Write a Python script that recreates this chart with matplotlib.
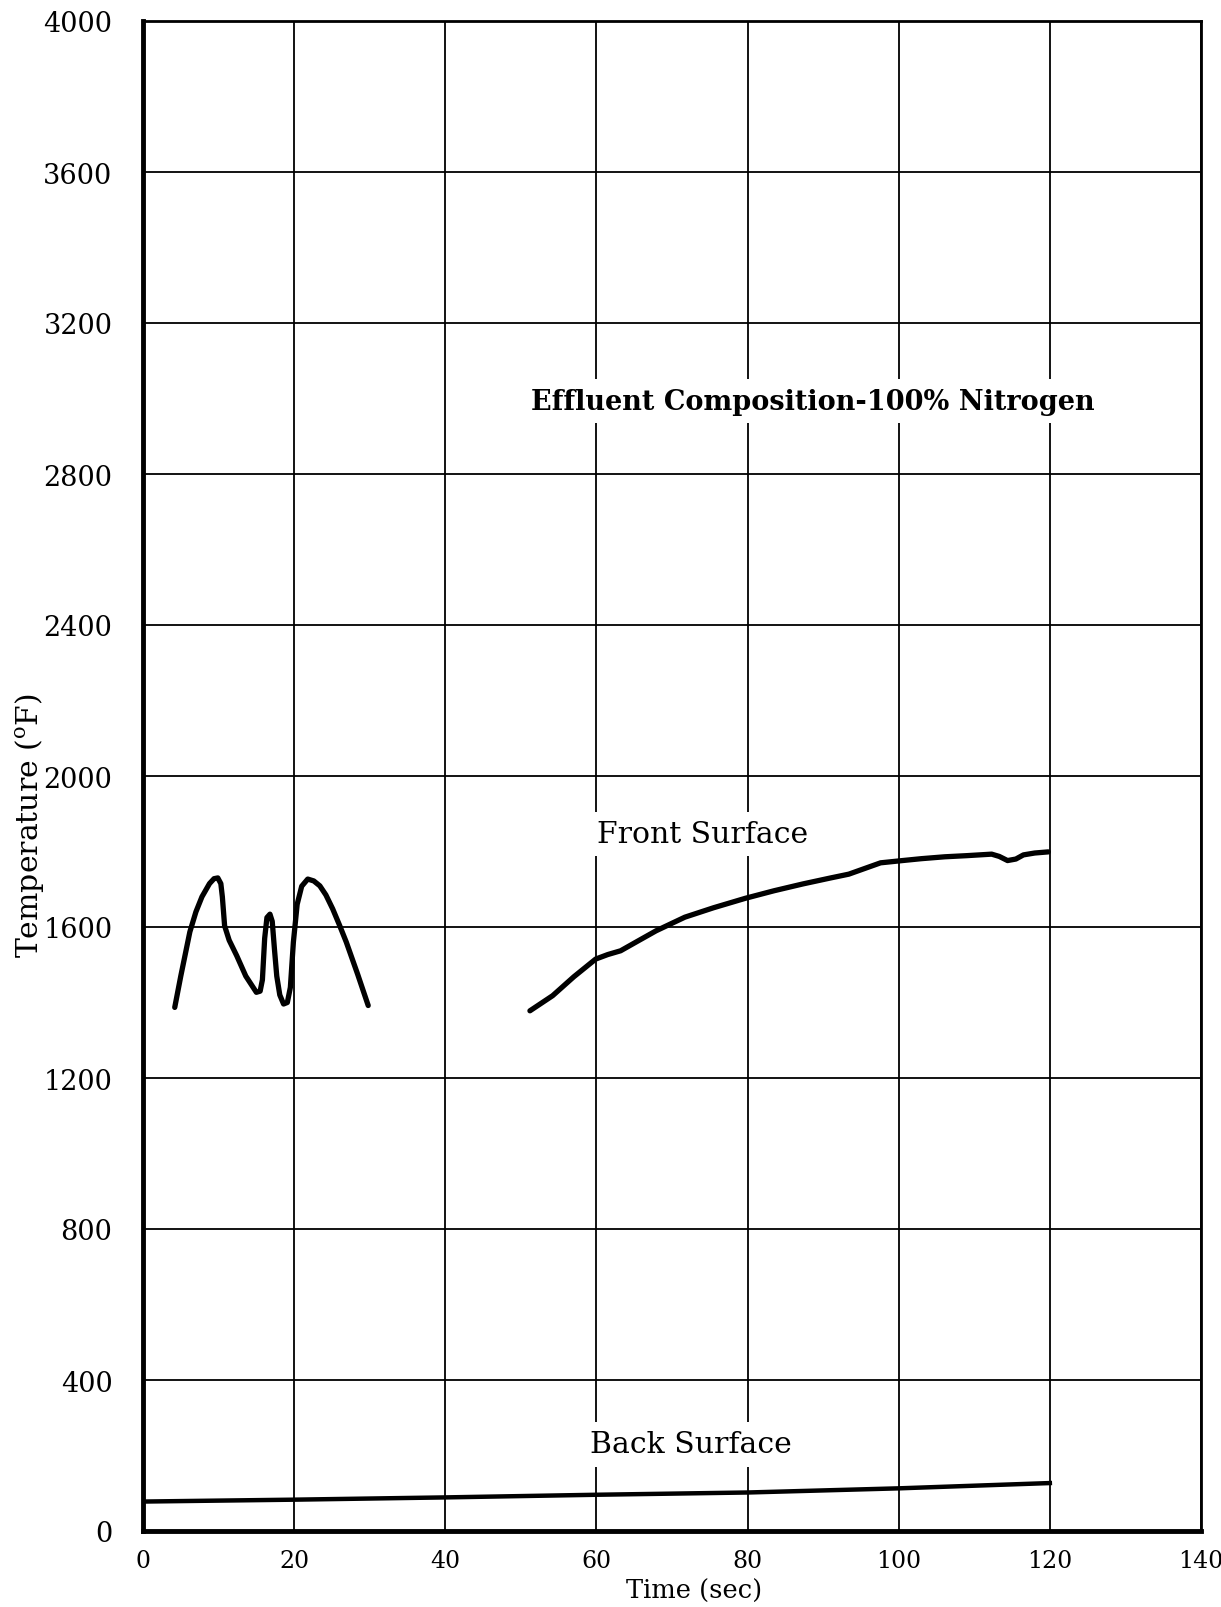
import matplotlib
matplotlib.use("Agg")
import matplotlib.pyplot as plt

# front surface, first burst (sec, deg F)
front1_t = [4.2, 5.0, 6.2, 7.0, 7.8, 8.8, 9.4, 9.9, 10.3, 10.5, 10.8, 11.4, 12.4, 13.6, 15.0, 15.5, 15.8,
            16.1, 16.4, 16.8, 17.1, 17.4, 17.7, 18.1, 18.6, 19.1, 19.5, 19.9, 20.4, 21.0, 21.8, 22.6, 23.4,
            24.2, 25.1, 26.0, 26.9, 28.4, 29.8]
front1_T = [1387, 1470, 1587, 1640, 1680, 1715, 1728, 1730, 1715, 1680, 1603, 1565, 1524, 1470, 1427, 1430,
            1460, 1570, 1625, 1634, 1615, 1540, 1470, 1420, 1396, 1400, 1440, 1560, 1660, 1708, 1727, 1722,
            1709, 1685, 1648, 1605, 1560, 1475, 1392]

# front surface, second part
front2_t = [51.2, 54.2, 57.0, 59.9, 61.5, 63.2, 65.5, 67.9, 71.7, 75.5, 79.7, 83.5, 87.3, 91.0, 93.4,
            95.5, 97.6, 100.5, 103.0, 106.1, 109.0, 112.3, 113.3, 114.4, 115.5, 116.5, 118.0, 119.8]
front2_T = [1378, 1418, 1468, 1515, 1527, 1537, 1563, 1590, 1626, 1651, 1676, 1696, 1714, 1730, 1740,
            1755, 1770, 1776, 1781, 1786, 1789, 1793, 1787, 1776, 1780, 1791, 1796, 1799]

# back surface
back_t = [0, 20, 40, 60, 80, 100, 120]
back_T = [78, 83, 89, 96, 102, 113, 127]

x_ticks = [0, 20, 40, 60, 80, 100, 120, 140]
y_ticks = [0, 400, 800, 1200, 1600, 2000, 2400, 2800, 3200, 3600, 4000]

plt.rcParams['font.family'] = ['DejaVu Serif']
plt.rcParams['mathtext.fontset'] = 'dejavuserif'

fig = plt.figure(figsize=(12.21, 16.08), dpi=100)
ax = fig.add_axes([143 / 1221, 1 - 1532 / 1608, (1201 - 143) / 1221, (1532 - 22) / 1608])

ax.plot(front1_t, front1_T, color='black', lw=3.8, solid_capstyle='round', solid_joinstyle='round', zorder=4)
ax.plot(front2_t, front2_T, color='black', lw=3.8, solid_capstyle='round', solid_joinstyle='round', zorder=4)
ax.plot(back_t, back_T, color='black', lw=3.2, zorder=4)

ax.set_xlim(0, 140)
ax.set_ylim(0, 4000)
ax.set_xticks(x_ticks)
ax.set_yticks(y_ticks)
ax.tick_params(axis='x', length=0, labelsize=17, pad=13)
ax.tick_params(axis='y', length=0, labelsize=19.5, pad=22)
ax.grid(True, color='black', lw=1.3)
ax.set_axisbelow(True)

for side in ['top', 'right']:
    ax.spines[side].set_linewidth(2.0)
for side in ['left', 'bottom']:
    ax.spines[side].set_linewidth(3.5)

box = dict(facecolor='white', edgecolor='none', pad=6)
ax.text(51.3, 2993, 'Effluent Composition-100% Nitrogen', fontsize=19.5, fontweight='bold',
        va='center', ha='left', bbox=box, zorder=3)
ax.text(60.1, 1846, 'Front Surface', fontsize=21.5, va='center', ha='left', bbox=box, zorder=3)
ax.text(59.2, 230, 'Back Surface', fontsize=21.5, va='center', ha='left', bbox=box, zorder=3)

ax.set_xlabel('Time (sec)', fontsize=18.5, va='center')
ax.xaxis.set_label_coords(0.521, -0.0395)
fig.text(30 / 1221, 1 - 826 / 1608, r'Temperature ($^{\rm o}$F)', rotation=90,
         fontsize=21.5, va='center', ha='center')

fig.savefig('out.png', dpi=100)
